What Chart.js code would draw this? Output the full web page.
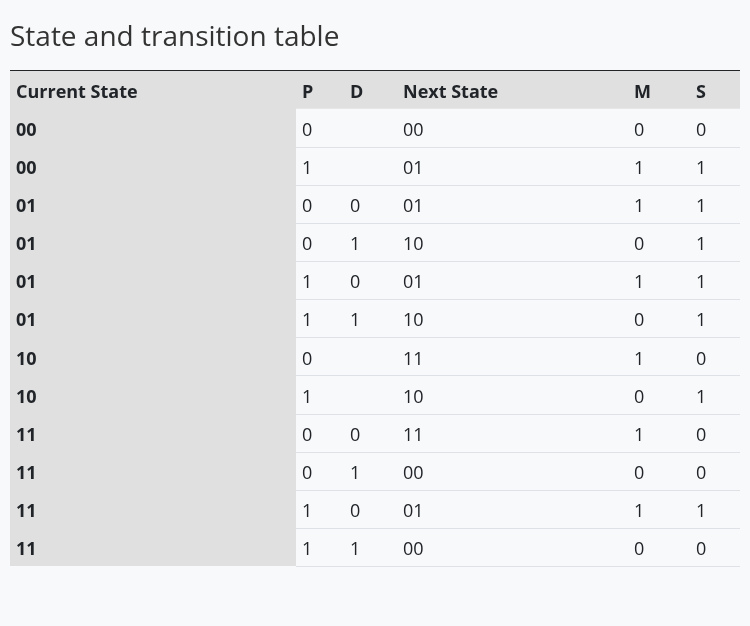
<!DOCTYPE html>
<html>
<head>
<meta charset="utf-8">
<title>State and transition table</title>
<script src="https://cdn.jsdelivr.net/npm/chart.js@4.4.0/dist/chart.umd.min.js"></script>
<style>
  html, body { margin: 0; padding: 0; background: #f8f9fa; }
  #wrap { position: relative; width: 750px; height: 626px; }
</style>
</head>
<body>
<div id="wrap"><canvas id="table"></canvas></div>
<script>
// Table contents
const columns = ['Current State', 'P', 'D', 'Next State', 'M', 'S'];
const currentState = ['00', '00', '01', '01', '01', '01', '10', '10', '11', '11', '11', '11'];
const pInput = ['0', '1', '0', '0', '1', '1', '0', '1', '0', '0', '1', '1'];
const dInput = ['', '', '0', '1', '0', '1', '', '', '0', '1', '0', '1'];
const nextState = ['00', '01', '01', '10', '01', '10', '11', '10', '11', '00', '01', '00'];
const mOutput = ['0', '1', '1', '0', '1', '0', '1', '0', '1', '0', '1', '0'];
const sOutput = ['0', '1', '1', '1', '1', '1', '0', '1', '0', '0', '1', '0'];

// Layout: left edge of each column in table units (0..730)
const colLeft = [0, 286, 334, 387, 618, 680];
const tableWidth = 730;
const cellPad = 6;

const rowKeys = ['header'].concat(currentState.map((s, i) => 'r' + i));
const bodyColumns = [currentState, pInput, dInput, nextState, mOutput, sOutput];

// one point per cell, header row included
const cells = [];
columns.forEach((name, c) => {
    cells.push({ x: colLeft[c], y: 'header', text: name, col: c, head: true });
    bodyColumns[c].forEach((v, r) => {
        cells.push({ x: colLeft[c], y: 'r' + r, text: v, col: c, head: false });
    });
});

const FONT = '"Open Sans", "Noto Sans", sans-serif';

// Draw backgrounds, rules and text from the scales
const tablePlugin = {
    id: 'tablePlugin',
    beforeDatasetsDraw(chart) {
        const ctx = chart.ctx;
        const xs = chart.scales.x;
        const ys = chart.scales.y;
        const band = ys.height / rowKeys.length;
        const left = xs.getPixelForValue(0);
        const right = xs.getPixelForValue(tableWidth);
        const firstColRight = xs.getPixelForValue(colLeft[1]);

        ctx.save();
        // header row
        const hy = ys.getPixelForValue(0) - band / 2;
        ctx.fillStyle = '#e0e0e0';
        ctx.fillRect(left, hy, right - left, band);
        // first column
        ctx.fillRect(left, hy, firstColRight - left, band * rowKeys.length);

        // row separators
        ctx.strokeStyle = '#dee2e6';
        ctx.lineWidth = 1;
        for (let r = 1; r < rowKeys.length; r++) {
            const yb = Math.round(ys.getPixelForValue(r) + band / 2) + 0.5;
            ctx.beginPath();
            ctx.moveTo(firstColRight, yb);
            ctx.lineTo(right, yb);
            ctx.stroke();
        }
        // top border
        ctx.strokeStyle = '#212529';
        ctx.beginPath();
        ctx.moveTo(left, Math.round(hy) - 0.5);
        ctx.lineTo(right, Math.round(hy) - 0.5);
        ctx.stroke();
        ctx.restore();
    },
    afterDatasetsDraw(chart) {
        const ctx = chart.ctx;
        const xs = chart.scales.x;
        const ys = chart.scales.y;
        ctx.save();
        ctx.textBaseline = 'middle';
        ctx.textAlign = 'left';
        chart.data.datasets[0].data.forEach(cell => {
            const bold = cell.head || cell.col === 0;
            ctx.font = (bold ? 'bold ' : '') + '18px ' + FONT;
            ctx.fillStyle = '#212529';
            const px = xs.getPixelForValue(cell.x) + cellPad;
            const py = ys.getPixelForValue(rowKeys.indexOf(cell.y)) + 3;
            ctx.fillText(cell.text, px, py);
        });
        ctx.restore();
    }
};

new Chart(document.getElementById('table'), {
    type: 'scatter',
    data: {
        datasets: [{
            label: 'cells',
            data: cells,
            pointRadius: 0,
            pointHoverRadius: 0
        }]
    },
    options: {
        responsive: true,
        maintainAspectRatio: false,
        animation: false,
        events: [],
        layout: { padding: { left: 10, right: 10, top: 0, bottom: 60 } },
        scales: {
            x: { type: 'linear', min: 0, max: tableWidth, display: false },
            y: { type: 'category', labels: rowKeys, offset: true, display: false }
        },
        plugins: {
            legend: { display: false },
            tooltip: { enabled: false },
            title: {
                display: true,
                text: 'State and transition table',
                align: 'start',
                color: '#333',
                font: { family: FONT, size: 28, weight: 'normal' },
                padding: { top: 21, bottom: 16 }
            }
        }
    },
    plugins: [tablePlugin]
});
</script>
</body>
</html>
